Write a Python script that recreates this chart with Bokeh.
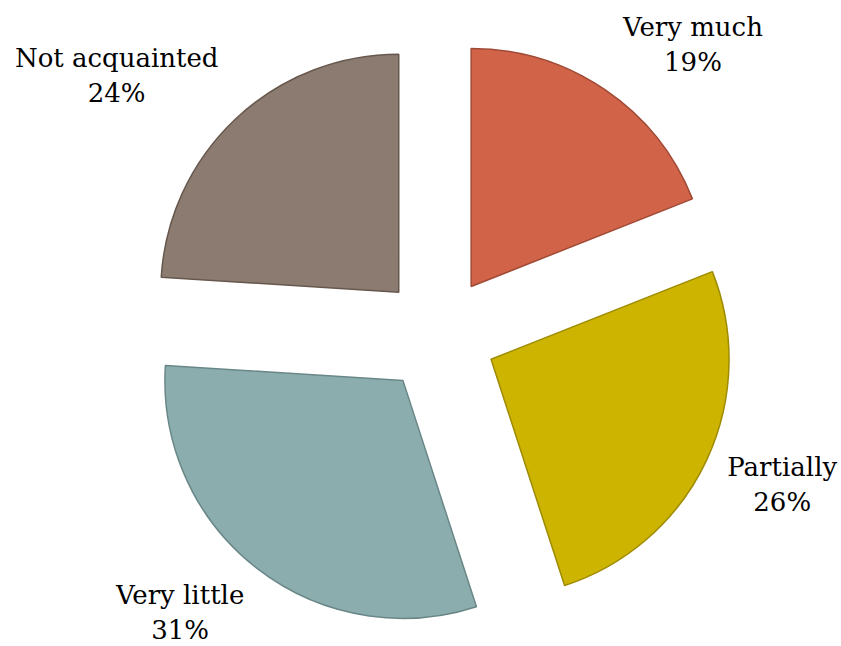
import math
from bokeh.plotting import figure
from bokeh.models import ColumnDataSource, Range1d
from bokeh.core.properties import value
from bokeh.embed import file_html
from bokeh.resources import INLINE

# ---- data ----
categories = ["Very much", "Partially", "Very little", "Not acquainted"]
percents = [19, 26, 31, 24]
fill_colors = ["#D16349", "#CCB400", "#8CADAE", "#8C7B70"]
line_colors = ["#A04A35", "#9E8B00", "#6A8788", "#67584E"]

# ---- layout ----
W, H = 841, 646
R_PX = 238.0            # pie radius in px
CX, CY = 438.0, 334.0   # pie centre in px inside the frame (from left, from top)
EXPLODE = 0.244         # explode distance in radius units
# label placement: (angle clockwise from top in deg, distance in radius units)
label_place = [(41.3, 1.62), (113.6, 1.576), (222.9, 1.595), (-51.2, 1.735)]

x0 = -CX / R_PX
x1 = (W - CX) / R_PX
y1 = CY / R_PX
y0 = -(H - CY) / R_PX

total = float(sum(percents))
starts, ends, xs, ys = [], [], [], []
cum = 0.0
for v in percents:
    t1 = cum / total * 360.0
    t2 = (cum + v) / total * 360.0
    tm = math.radians((t1 + t2) / 2.0)
    starts.append(math.radians(90.0 - t2))
    ends.append(math.radians(90.0 - t1))
    xs.append(EXPLODE * math.sin(tm))
    ys.append(EXPLODE * math.cos(tm))
    cum += v

src = ColumnDataSource(dict(x=xs, y=ys, start=starts, end=ends,
                            fill=fill_colors, line=line_colors))

p = figure(width=W, height=H, output_backend="svg", toolbar_location=None,
           x_range=Range1d(x0, x1), y_range=Range1d(y0, y1),
           min_border=0, outline_line_color=None)
p.axis.visible = False
p.grid.visible = False
p.xaxis.visible = False
p.yaxis.visible = False

p.wedge(x="x", y="y", radius=1.0, start_angle="start", end_angle="end",
        direction="anticlock", fill_color="fill", line_color="line",
        line_width=1.5, source=src)

lx, ly, ltext = [], [], []
for (ang, dist), cat, v in zip(label_place, categories, percents):
    a = math.radians(ang)
    lx.append(dist * math.sin(a))
    ly.append(dist * math.cos(a))
    ltext.append(f"{cat}\n{v}%")

p.text(x=lx, y=ly, text=ltext, text_align="center", text_baseline="middle",
       text_font=value("DejaVu Serif"), text_font_size="26px",
       text_line_height=1.16, text_color="#000000")

open("out.html", "w").write(file_html(p, INLINE))
